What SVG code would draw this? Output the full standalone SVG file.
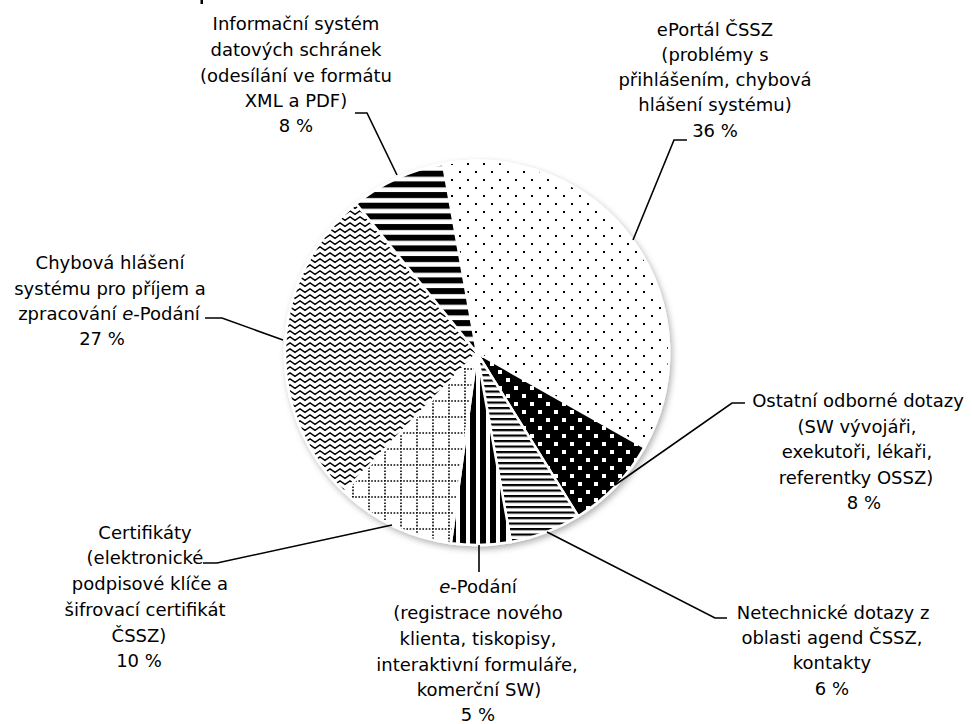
<svg xmlns="http://www.w3.org/2000/svg" width="972" height="724" viewBox="0 0 972 724">
<style>
.lbl{font-family:"DejaVu Sans","Liberation Sans",sans-serif;font-size:18px;fill:#000;text-anchor:middle}
.ld{fill:none;stroke:#000;stroke-width:1.6}
.sl{stroke:#fff;stroke-width:2.5;stroke-linejoin:round}
</style>
<defs>
<pattern id="pDots" patternUnits="userSpaceOnUse" width="16" height="16">
<rect width="16" height="16" fill="#fff"/>
<rect x="3" y="3" width="2" height="2" fill="#000"/>
<rect x="11" y="11" width="2" height="2" fill="#000"/>
</pattern>
<pattern id="pSq" patternUnits="userSpaceOnUse" width="16" height="16">
<rect width="16" height="16" fill="#000"/>
<rect x="2" y="2" width="4" height="4" fill="#fff"/>
<rect x="10" y="10" width="4" height="4" fill="#fff"/>
</pattern>
<pattern id="pH" patternUnits="userSpaceOnUse" width="8" height="5.5">
<rect width="8" height="5.5" fill="#fff"/>
<rect y="0" width="8" height="2.2" fill="#000"/>
</pattern>
<pattern id="pV" patternUnits="userSpaceOnUse" width="10" height="10">
<rect width="10" height="10" fill="#fff"/>
<rect x="0" width="6" height="10" fill="#000"/>
</pattern>
<pattern id="pGrid" patternUnits="userSpaceOnUse" width="16" height="16">
<rect width="16" height="16" fill="#fff"/>
<path d="M0,1 H16 M1,0 V16" stroke="#000" stroke-width="1.6" stroke-dasharray="1.6 1.6"/>
</pattern>
<pattern id="pZig" patternUnits="userSpaceOnUse" width="10" height="6">
<rect width="10" height="6" fill="#fff"/>
<path d="M-2.5,3.2 L0,0.9 L5,4.4 L10,0.9 L12.5,3.2" fill="none" stroke="#000" stroke-width="1.5"/>
</pattern>
<pattern id="pWide" patternUnits="userSpaceOnUse" width="10" height="10.67">
<rect width="10" height="10.67" fill="#fff"/>
<rect width="10" height="6" fill="#000"/>
</pattern>
<filter id="sh" x="-10%" y="-10%" width="120%" height="120%">
<feDropShadow dx="2" dy="3" stdDeviation="3" flood-color="#000" flood-opacity="0.3"/>
</filter>
</defs>
<rect width="972" height="724" fill="#fff"/>
<rect x="200.5" y="0" width="2.5" height="4" fill="#000"/>
<g id="pie" filter="url(#sh)">
<path id="s-eportal" class="sl" fill="url(#pDots)" d="M477,353 L443,164 A192,192 0 0 1 644.3,447.3 Z"/>
<path id="s-ostatni" class="sl" fill="url(#pSq)" d="M477,353 L644.3,447.3 A192,192 0 0 1 578.2,516.2 Z"/>
<path id="s-netech" class="sl" fill="url(#pH)" d="M477,353 L578.2,516.2 A192,192 0 0 1 511,542 Z"/>
<path id="s-epodani" class="sl" fill="url(#pV)" d="M477,353 L511,542 A192,192 0 0 1 450.9,543.2 Z"/>
<path id="s-cert" class="sl" fill="url(#pGrid)" d="M477,353 L450.9,543.2 A192,192 0 0 1 344.1,491.6 Z"/>
<path id="s-chyb" class="sl" fill="url(#pZig)" d="M477,353 L344.1,491.6 A192,192 0 0 1 356.2,203.8 Z"/>
<path id="s-info" class="sl" fill="url(#pWide)" d="M477,353 L356.2,203.8 A192,192 0 0 1 443,164 Z"/>
</g>
<g id="connectors">
<path class="ld" d="M355,113 L367,113 L397,175"/>
<path class="ld" d="M687,140 L674,140 L633,240"/>
<path class="ld" d="M205,318 L222,318 L283,340"/>
<path class="ld" d="M745,403 L732,403 L615,485"/>
<path class="ld" d="M203,563 L217,563 L392,525"/>
<path class="ld" d="M479,545 L479,572"/>
<path class="ld" d="M727,618 L715,618 L547,532"/>
</g>
<g id="label-info">
<text class="lbl" x="296" y="30">Informační systém</text>
<text class="lbl" x="296" y="56">datových schránek</text>
<text class="lbl" x="296" y="82">(odesílání ve formátu</text>
<text class="lbl" x="296" y="107">XML a PDF)</text>
<text class="lbl" x="296" y="132">8 %</text>
</g>
<g id="label-eportal">
<text class="lbl" x="715" y="36">ePortál ČSSZ</text>
<text class="lbl" x="715" y="61">(problémy s</text>
<text class="lbl" x="715" y="86">přihlášením, chybová</text>
<text class="lbl" x="715" y="111">hlášení systému)</text>
<text class="lbl" x="715" y="137">36 %</text>
</g>
<g id="label-chyb">
<text class="lbl" x="110" y="269">Chybová hlášení</text>
<text class="lbl" x="110" y="295">systému pro příjem a</text>
<text class="lbl" x="109" y="320">zpracování <tspan font-style="italic">e</tspan>-Podání</text>
<text class="lbl" x="102" y="345">27 %</text>
</g>
<g id="label-ostatni">
<text class="lbl" x="858" y="407">Ostatní odborné dotazy</text>
<text class="lbl" x="857" y="433">(SW vývojáři,</text>
<text class="lbl" x="857" y="458">exekutoři, lékaři,</text>
<text class="lbl" x="856" y="484">referentky OSSZ)</text>
<text class="lbl" x="864" y="509">8 %</text>
</g>
<g id="label-cert">
<text class="lbl" x="145" y="539">Certifikáty</text>
<text class="lbl" x="145" y="564">(elektronické</text>
<text class="lbl" x="150" y="590">podpisové klíče a</text>
<text class="lbl" x="145" y="616">šifrovací certifikát</text>
<text class="lbl" x="139" y="642">ČSSZ)</text>
<text class="lbl" x="139" y="667">10 %</text>
</g>
<g id="label-epodani">
<text class="lbl" x="478" y="593"><tspan font-style="italic">e</tspan>-Podání</text>
<text class="lbl" x="478" y="619">(registrace nového</text>
<text class="lbl" x="478" y="645">klienta, tiskopisy,</text>
<text class="lbl" x="477" y="671">interaktivní formuláře,</text>
<text class="lbl" x="479" y="696">komerční SW)</text>
<text class="lbl" x="478" y="721">5 %</text>
</g>
<g id="label-netech">
<text class="lbl" x="833" y="619">Netechnické dotazy z</text>
<text class="lbl" x="832" y="644">oblasti agend ČSSZ,</text>
<text class="lbl" x="832" y="669">kontakty</text>
<text class="lbl" x="832" y="695">6 %</text>
</g>
</svg>
